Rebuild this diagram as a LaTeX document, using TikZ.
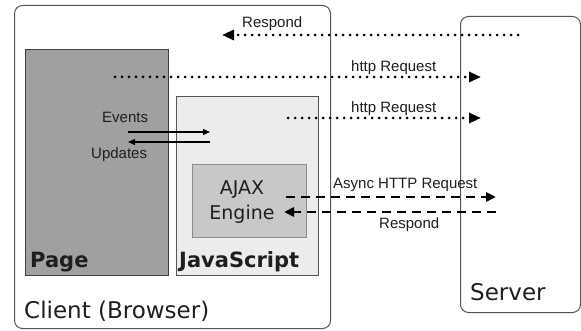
\documentclass[tikz,border=0pt]{standalone}
\usepackage{fontspec}
\setmainfont{DejaVu Sans}
\newfontfamily\arialf{Liberation Sans}
\usetikzlibrary{arrows.meta}
\definecolor{boxline}{HTML}{555555}
\definecolor{pagefill}{HTML}{A0A0A0}
\definecolor{jsfill}{HTML}{ECECEC}
\definecolor{ajaxfill}{HTML}{C8C8C8}
\definecolor{txt}{HTML}{1E1E1E}
\tikzset{
  frame/.style={draw=boxline, line width=1pt, rounded corners=8pt, anchor=north west, inner sep=0pt},
  panel/.style={draw=boxline, line width=1pt, anchor=north west, inner sep=0pt},
  biglabel/.style={font=\fontsize{23}{27}\selectfont, text=txt, anchor=base west, inner sep=0pt},
  boldlabel/.style={font=\bfseries\fontsize{21}{25}\selectfont, text=txt, anchor=base west, inner sep=0pt},
  msg/.style={font=\arialf\fontsize{15}{18}\selectfont, text=txt, anchor=base west, inner sep=0pt},
  dotarrow/.style={line width=3pt, line cap=round, dash pattern=on 0pt off 7pt, -{Triangle[length=12pt,width=10pt]}},
  dasharrow/.style={line width=2.5pt, dash pattern=on 9pt off 6pt, -{Triangle[length=10pt,width=9pt]}},
  thinarrow/.style={line width=1.2pt, -{Triangle[length=7pt,width=6pt]}}
}
\begin{document}
\begin{tikzpicture}[x=1pt,y=-1pt]
\useasboundingbox (0,0) rectangle (581,331);
% boxes
\node[frame, minimum width=316pt, minimum height=323pt] (client) at (14,5) {};
\node[frame, minimum width=120pt, minimum height=296pt] (server) at (460,16) {};
\node[panel, draw=black!75, fill=pagefill, minimum width=143pt, minimum height=226pt] (page) at (25,49) {};
\node[panel, fill=jsfill, minimum width=142pt, minimum height=179pt] (js) at (176,96) {};
\node[panel, draw=black!45, fill=ajaxfill, minimum width=114pt, minimum height=73pt] (ajax) at (192,164) {};
% box labels
\node[biglabel] (clientlbl) at (24,318) {Client (Browser)};
\node[biglabel] (serverlbl) at (470,300) {Server};
\node[boldlabel] (pagelbl) at (30,267) {Page};
\node[boldlabel] (jslbl) at (179,267) {JavaScript};
\node[font=\fontsize{19}{25}\selectfont, text=txt, align=center, inner sep=0pt] (ajaxlbl) at (242,202.5) {AJAX\\Engine};
% connector end points
\coordinate (rs) at (518,35);
\coordinate (re) at (222,35);
\coordinate (h1s) at (115,77);
\coordinate (h1e) at (481,77);
\coordinate (h2s) at (288,118);
\coordinate (h2e) at (481,118);
\coordinate (evs) at (128,132);
\coordinate (eve) at (210,132);
\coordinate (ups) at (210,142);
\coordinate (upe) at (128,142);
\coordinate (as) at (286,197);
\coordinate (ae) at (496,197);
\coordinate (bs) at (496,212);
\coordinate (be) at (284,212);
% connectors
\draw[dotarrow] (rs) -- (re);
\draw[dotarrow] (h1s) -- (h1e);
\draw[dotarrow] (h2s) -- (h2e);
\draw[thinarrow] (evs) -- (eve);
\draw[thinarrow] (ups) -- (upe);
\draw[dasharrow] (as) -- (ae);
\draw[dasharrow] (bs) -- (be);
% message labels
\node[msg] (l1) at (242,28) {Respond};
\node[msg] (l2) at (351,72) {http Request};
\node[msg] (l3) at (351,113) {http Request};
\node[msg] (l4) at (102,123) {Events};
\node[msg] (l5) at (91,159) {Updates};
\node[msg] (l6) at (333,189) {Async HTTP Request};
\node[msg] (l7) at (379,229) {Respond};
\end{tikzpicture}
\end{document}
